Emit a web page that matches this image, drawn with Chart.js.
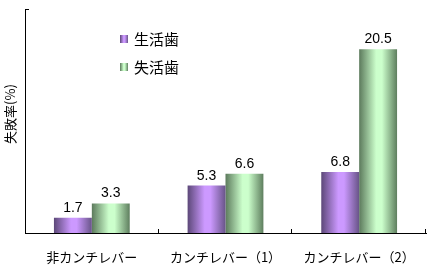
<!DOCTYPE html>
<html>
<head>
<meta charset="utf-8">
<script src="https://cdn.jsdelivr.net/npm/chart.js@4/dist/chart.umd.min.js"></script>
<style>
  body { margin: 0; background: #fff; }
  canvas { display: block; }
</style>
</head>
<body>
<canvas id="grafico" width="432" height="268"></canvas>
<script>
// categorías y valores
const categorias = ['非カンチレバー', 'カンチレバー（1）', 'カンチレバー（2）'];
const seriesNombres = ['生活歯', '失活歯'];
const valoresVivos = [1.7, 5.3, 6.8];
const valoresMuertos = [3.3, 6.6, 20.5];
const yMax = 25;

// colores de degradado (oscuro - claro - oscuro)
const degradados = [
  ['#5c4878', '#cc99ff', '#cc99ff', '#685488'],
  ['#5c7a5c', '#ccffcc', '#ccffcc', '#5e7e5e']
];

function crearDegradado(ctx, x0, x1, colores) {
  const g = ctx.createLinearGradient(x0, 0, x1, 0);
  g.addColorStop(0, colores[0]);
  g.addColorStop(0.45, colores[1]);
  g.addColorStop(0.6, colores[2]);
  g.addColorStop(1, colores[3]);
  return g;
}

function fondoBarra(context) {
  const chart = context.chart;
  const meta = chart.getDatasetMeta(context.datasetIndex);
  const el = meta.data[context.dataIndex];
  const colores = degradados[context.datasetIndex];
  if (!el || el.x == null || isNaN(el.x) || !el.width) return colores[1];
  return crearDegradado(chart.ctx, el.x - el.width / 2, el.x + el.width / 2, colores);
}

//Plugin: etiquetas, marcas de eje y leyenda
const extras = {
  id: 'extras',
  afterDatasetsDraw(chart) {
    const ctx = chart.ctx;
    const xs = chart.scales.x;
    const ys = chart.scales.y;
    ctx.save();
    // valores sobre las barras
    ctx.font = '14px "Liberation Sans", Arial, sans-serif';
    ctx.fillStyle = '#000';
    ctx.textAlign = 'center';
    ctx.textBaseline = 'alphabetic';
    chart.data.datasets.forEach((ds, i) => {
      chart.getDatasetMeta(i).data.forEach((bar, j) => {
        ctx.fillText(ds.data[j].toFixed(1), bar.x, bar.y - 6);
      });
    });
    // marcas interiores
    ctx.strokeStyle = '#000';
    ctx.lineWidth = 1;
    ctx.beginPath();
    const paso = (xs.right - xs.left) / categorias.length;
    for (let i = 1; i <= categorias.length; i++) {
      const px = Math.round(xs.left + paso * i) - 0.5;
      ctx.moveTo(px, ys.bottom);
      ctx.lineTo(px, ys.bottom - 4);
    }
    const py = Math.round(ys.getPixelForValue(yMax)) + 0.5;
    ctx.moveTo(xs.left, py);
    ctx.lineTo(xs.left + 4, py);
    ctx.stroke();
    // título del eje y
    ctx.save();
    ctx.translate(10, 114);
    ctx.rotate(-Math.PI / 2);
    ctx.textAlign = 'center';
    ctx.textBaseline = 'middle';
    ctx.font = '13px "Noto Sans CJK JP", sans-serif';
    ctx.fillText('失敗率(%)', 0, 0);
    ctx.restore();
    // leyenda
    ctx.textAlign = 'left';
    ctx.textBaseline = 'middle';
    ctx.font = '15px "Noto Sans CJK JP", sans-serif';
    seriesNombres.forEach((nombre, i) => {
      const lx = 120, ly = 35 + i * 28;
      ctx.fillStyle = crearDegradado(ctx, lx, lx + 8, degradados[i]);
      ctx.fillRect(lx, ly, 8, 8);
      ctx.fillStyle = '#000';
      ctx.fillText(nombre, lx + 14, ly + 4);
    });
    ctx.restore();
  }
};

const grafico = new Chart(document.getElementById('grafico'), {
  type: 'bar',
  data: {
    labels: categorias,
    datasets: [
      {
        label: seriesNombres[0],
        data: valoresVivos,
        backgroundColor: fondoBarra,
        borderWidth: 0
      },
      {
        label: seriesNombres[1],
        data: valoresMuertos,
        backgroundColor: fondoBarra,
        borderWidth: 0
      }
    ]
  },
  options: {
    responsive: false,
    animation: false,
    events: [],
    layout: { padding: { top: 9, right: 6, left: 0, bottom: 0 } },
    datasets: {
      bar: { categoryPercentage: 0.567, barPercentage: 1 }
    },
    plugins: {
      legend: { display: false },
      tooltip: { enabled: false }
    },
    scales: {
      x: {
        grid: { display: false },
        border: { display: true, color: '#000', width: 1 },
        ticks: {
          color: '#000',
          font: { family: '"Noto Sans CJK JP", sans-serif', size: 13 },
          padding: 8,
          maxRotation: 0
        },
        afterFit(scale) { scale.height = 35; }
      },
      y: {
        min: 0,
        max: yMax,
        grid: { display: false },
        border: { display: true, color: '#000', width: 1 },
        ticks: { display: false },
        title: { display: false },
        afterFit(scale) { scale.width = 25; }
      }
    }
  },
  plugins: [extras]
});
// segunda pasada para que el degradado use la posición real de cada barra
grafico.update('none');
</script>
</body>
</html>
